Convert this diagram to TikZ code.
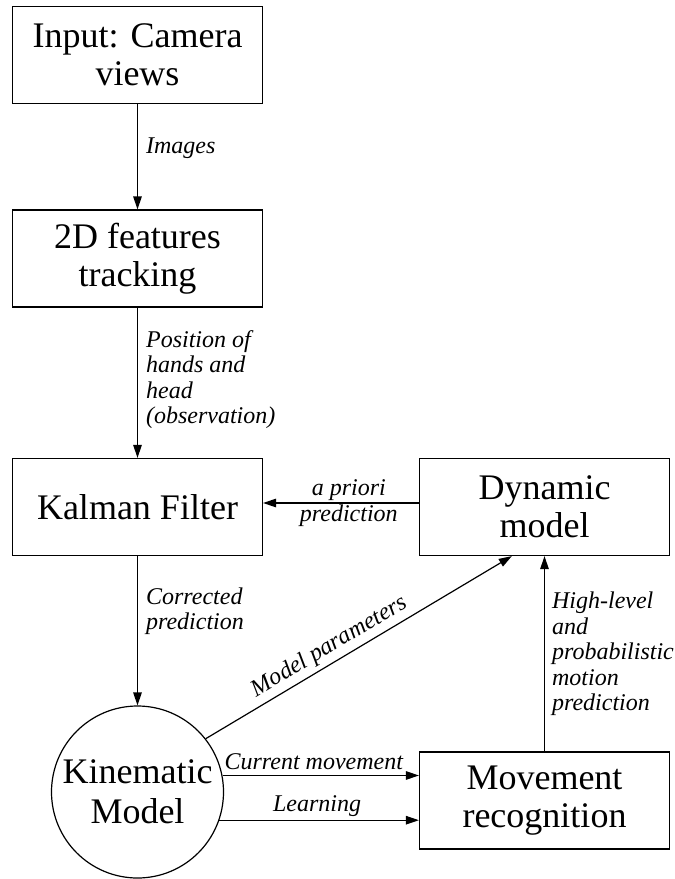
\documentclass[tikz,border=0pt]{standalone}
\usepackage{fontspec}
\setmainfont{Liberation Serif}
\usetikzlibrary{arrows.meta,calc}
\begin{document}
\begin{tikzpicture}[x=1pt,y=-1pt,
  box/.style={draw, line width=1.2pt, minimum width=250pt, minimum height=97pt,
    align=center, inner sep=0pt, font=\fontsize{36}{38}\selectfont},
  lbl/.style={font=\fontsize{24}{25.5}\selectfont\itshape, align=left, inner sep=0pt},
  arr/.style={line width=1.2pt, -{Triangle[length=13pt,width=8.5pt]}}]
\useasboundingbox (0,0) rectangle (675,879);

% processing blocks
\node[box] (cam) at (137.5,55) {Input: Camera\\views};
\node[box] (trk) at (137.5,258.5) {2D features\\tracking};
\node[box] (kal) at (137.5,507) {Kalman Filter};
\node[box] (dyn) at (544.5,507) {Dynamic\\model};
\node[draw, circle, line width=1.2pt, minimum size=172pt, inner sep=0pt, align=center,
  font=\fontsize{36}{40}\selectfont] (kin) at (137.5,792) {Kinematic\\Model};
\node[box] (mov) at (544.5,800.5) {Movement\\recognition};

% vertical data flow
\draw[arr] (cam.south) -- node[lbl, pos=0.415, anchor=west, xshift=8pt] {Images} (trk.north);
\draw[arr] (trk.south) -- node[lbl, pos=0.48, anchor=west, xshift=8pt]
  {Position of\\hands and\\head\\(observation)} (kal.north);
\draw[arr] (kal.south) -- node[lbl, pos=0.37, anchor=west, xshift=8pt]
  {Corrected\\prediction} (kin.north);

% prediction fed back to the filter
\coordinate (ap) at ([yshift=4pt]dyn.west);
\draw[arr] (ap) -- node[lbl, pos=0.45, align=center] {a priori\\prediction} (ap -| kal.east);

% kinematic model outputs
\coordinate (dp) at ($(dyn.south west)!0.37!(dyn.south east)$);
\draw[arr] (kin.38) -- node[lbl, pos=0.43, sloped, above=4pt] {Model parameters} (dp);
\draw[arr] (kin.11.4) -- node[lbl, pos=0.465, above=5pt] {Current movement} (kin.11.4 -| mov.west);
\draw[arr] (kin.-19) -- node[lbl, pos=0.49, above=3pt] {Learning} (kin.-19 -| mov.west);

% recognition to dynamic model
\draw[arr] (mov.north) -- node[lbl, midway, anchor=west, xshift=7pt]
  {High-level\\and\\probabilistic\\motion\\prediction} (dyn.south);
\end{tikzpicture}
\end{document}
